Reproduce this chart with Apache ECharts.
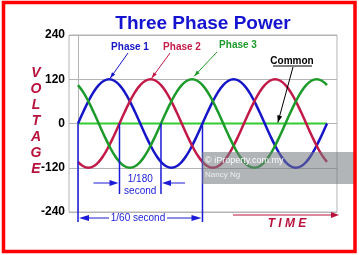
<!DOCTYPE html>
<html><head><meta charset="utf-8">
<script src="https://cdn.jsdelivr.net/npm/echarts@6/dist/echarts.min.js"></script>
<style>html,body{margin:0;padding:0;background:#fff}#c{width:359px;height:255px}</style>
</head><body><div id="c"></div>
<script>
// Phase angle (degrees) at each sample
var angles = [0,15,30,45,60,75,90,105,120,135,150,165,180,195,210,225,240,255,270,285,300,315,330,345,
              360,375,390,405,420,435,450,465,480,495,510,525,540,555,570,585,600,615,630,645,660,675,690,705,720];
// Voltages
var phase1 = [0,31,60,85,104,116,120,116,104,85,60,31,0,-31,-60,-85,-104,-116,-120,-116,-104,-85,-60,-31,
              0,31,60,85,104,116,120,116,104,85,60,31,0,-31,-60,-85,-104,-116,-120,-116,-104,-85,-60,-31,0];
var phase2 = [-104,-116,-120,-116,-104,-85,-60,-31,0,31,60,85,104,116,120,116,104,85,60,31,0,-31,-60,-85,
              -104,-116,-120,-116,-104,-85,-60,-31,0,31,60,85,104,116,120,116,104,85,60,31,0,-31,-60,-85,-104];
var phase3 = [104,85,60,31,0,-31,-60,-85,-104,-116,-120,-116,-104,-85,-60,-31,0,31,60,85,104,116,120,116,
              104,85,60,31,0,-31,-60,-85,-104,-116,-120,-116,-104,-85,-60,-31,0,31,60,85,104,116,120,116,104];
var commonAngles = [0,720];
var commonValues = [0,0];
var yTicks = [-240,-120,0,120,240];
var seriesNames = ['Phase 1','Phase 2','Phase 3','Common'];

var BLUE='#1616c8', RED='#c21a48', GREEN='#1c9a2a', LIME='#33cc33', CRIMSON='#b8123c', DIM='#1a1ad8';

function pairs(xs, ys){ return xs.map(function(x,i){return [x, ys[i]];}); }

var chart = echarts.init(document.getElementById('c'), null, {renderer:'canvas'});
chart.setOption({
  animation:false,
  backgroundColor:'#fff',
  title:{text:'Three Phase Power', left:198, textAlign:'center', top:9,
    textStyle:{color:'#1414d0', fontFamily:'Liberation Sans, Arial', fontWeight:'bold', fontSize:19}},
  grid:{left:69, right:22, top:35, bottom:43, show:true, borderColor:'#b4b4b4', borderWidth:1, backgroundColor:'transparent'},
  xAxis:{type:'value', min:-26, max:749, show:false},
  yAxis:{type:'value', min:yTicks[0], max:yTicks[yTicks.length-1], interval:120,
    axisLine:{show:true, lineStyle:{color:'#b4b4b4'}}, axisTick:{show:false},
    splitLine:{show:true, lineStyle:{color:'#b4b4b4', width:1}},
    axisLabel:{color:'#000', fontWeight:'bold', fontSize:12, fontFamily:'Liberation Sans, Arial', margin:4}},
  series:[
    {name:seriesNames[3], type:'line', data:pairs(commonAngles, commonValues), showSymbol:false, lineStyle:{color:LIME, width:2}, z:1},
    {name:seriesNames[0], type:'line', data:pairs(angles, phase1), smooth:true, showSymbol:false, lineStyle:{color:BLUE, width:2.5}, z:3},
    {name:seriesNames[1], type:'line', data:pairs(angles, phase2), smooth:true, showSymbol:false, lineStyle:{color:RED, width:2.5}, z:3},
    {name:seriesNames[2], type:'line', data:pairs(angles, phase3), smooth:true, showSymbol:false, lineStyle:{color:GREEN, width:2.5}, z:3}
  ]
});

function px(x,y){ return chart.convertToPixel({xAxisIndex:0, yAxisIndex:0}, [x,y]); }
var g = [];
function line(x1,y1,x2,y2,color,w){ g.push({type:'line', shape:{x1:x1,y1:y1,x2:x2,y2:y2}, style:{stroke:color, lineWidth:w||1}, z:10}); }
function head(x1,y1,x2,y2,color,len,wid){
  var a=Math.atan2(y2-y1,x2-x1), c=Math.cos(a), s=Math.sin(a);
  var bx=x2-c*len, by=y2-s*len;
  g.push({type:'polygon', shape:{points:[[x2,y2],[bx-s*wid/2,by+c*wid/2],[bx+s*wid/2,by-c*wid/2]]}, style:{fill:color}, z:10});
}
function arrow(x1,y1,x2,y2,color,w,len,wid){ line(x1,y1,x2,y2,color,w); head(x1,y1,x2,y2,color,len,wid); }
function text(t,x,y,color,font,align,z){ g.push({type:'text', x:x, y:y, style:{text:t, fill:color, font:font, textAlign:align||'center', textVerticalAlign:'middle'}, z:z||11}); }

// red frame
g.push({type:'rect', shape:{x:3.5,y:2.5,width:351.5,height:249}, style:{fill:'none', stroke:'#ff0000', lineWidth:3.5}, z:20});

// phase labels with arrows to peaks
var p1 = px(90,120), p2 = px(210,120), p3 = px(330,120), pc = px(578,0);
text('Phase 1',130,47,BLUE,'bold 10px Liberation Sans, Arial');
arrow(128,53,p1[0]+1,p1[1]-1,BLUE,1,6,4);
text('Phase 2',182,47,RED,'bold 10px Liberation Sans, Arial');
arrow(170,53,p2[0]+1,p2[1]-1,RED,1,6,4);
text('Phase 3',238,45,GREEN,'bold 10px Liberation Sans, Arial');
arrow(217,52,p3[0]+2,p3[1]-3,GREEN,1,6,4);
text('Common',292,61,'#000','bold 10px Liberation Sans, Arial');
line(273,66,312,66,'#000',1);
arrow(293,67,pc[0],pc[1]-1,'#000',1,7,5);

// VOLTAGE
'VOLTAGE'.split('').forEach(function(ch,i){ text(ch,36,73+i*16,CRIMSON,'italic bold 14px Liberation Sans, Arial'); });

// TIME
line(233,215,332,215,CRIMSON,1.2);
head(233,215,339,215,CRIMSON,8,6);
text('T I M E',287,224,CRIMSON,'italic bold 12px Liberation Sans, Arial');

// period dimensions
var a0=px(0,0), a1=px(120,0), a2=px(240,0), a3=px(360,0);
line(a0[0],a0[1],a0[0],222,DIM,1.5);
line(a3[0],a3[1],a3[0],222,DIM,1.5);
line(a1[0],a1[1],a1[0],194,DIM,1.5);
line(a2[0],a2[1],a2[0],194,DIM,1.5);
// 1/180 second
line(a1[0]-26,183,a1[0]-8,183,DIM,1);
head(a1[0]-26,183,a1[0]-1,183,DIM,9,6);
line(a2[0]+24,183,a2[0]+8,183,DIM,1);
head(a2[0]+24,183,a2[0]+1,183,DIM,9,6);
text('1/180',(a1[0]+a2[0])/2,179,DIM,'10px Liberation Sans, Arial');
text('second',(a1[0]+a2[0])/2,191,DIM,'10px Liberation Sans, Arial');
// 1/60 second
line(a0[0]+6,218,109,218,DIM,1);
line(167,218,a3[0]-6,218,DIM,1);
head(a0[0]+20,218,a0[0]+1,218,DIM,10,6);
head(a3[0]-20,218,a3[0]-1,218,DIM,10,6);
text('1/60 second',138,218,DIM,'10px Liberation Sans, Arial');

// watermark
g.push({type:'rect', shape:{x:202,y:152,width:154,height:32}, style:{fill:'rgba(115,120,126,0.55)'}, z:15});
text('\u00a9 iProperty.com.my',205,161,'rgba(255,255,255,0.95)','9px Liberation Sans, Arial','left',16);
text('Nancy Ng',205,175,'rgba(255,255,255,0.75)','8px Liberation Sans, Arial','left',16);

chart.setOption({graphic:{elements:g}});
</script></body></html>
